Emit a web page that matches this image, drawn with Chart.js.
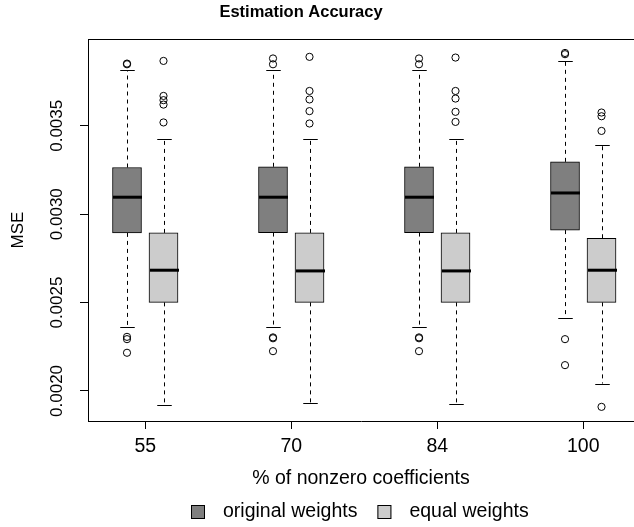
<!DOCTYPE html>
<html>
<head>
<meta charset="utf-8">
<script src="https://cdn.jsdelivr.net/npm/chart.js@4.4.1/dist/chart.umd.min.js"></script>
<style>
  html, body { margin: 0; padding: 0; background: #fff; overflow: hidden; }
  canvas { display: block; }
</style>
</head>
<body>
<canvas id="chart" width="634" height="527"></canvas>
<script>
// categories (x axis) and series
const categories = ['55', '70', '84', '100'];
const seriesNames = ['original weights', 'equal weights'];
const seriesColors = ['#7f7f7f', '#cccccc'];

// original weights: box statistics per category
const origLow = [0.002359, 0.002359, 0.002359, 0.002410];
const origQ1 = [0.002894, 0.002896, 0.002896, 0.002910];
const origMed = [0.003096, 0.003096, 0.003096, 0.003120];
const origQ3 = [0.003264, 0.003268, 0.003268, 0.003296];
const origHigh = [0.003814, 0.003814, 0.003814, 0.003867];
const origOut = [
  [0.003852, 0.003848, 0.002306, 0.002293, 0.002216],
  [0.003881, 0.003848, 0.002303, 0.002298, 0.002225],
  [0.003881, 0.003848, 0.002303, 0.002298, 0.002225],
  [0.003912, 0.003905, 0.002293, 0.002146]
];

// equal weights: box statistics per category
const eqLow = [0.001920, 0.001929, 0.001925, 0.002042];
const eqQ1 = [0.002501, 0.002501, 0.002501, 0.002501];
const eqMed = [0.002683, 0.002679, 0.002679, 0.002683];
const eqQ3 = [0.002894, 0.002894, 0.002894, 0.002864];
const eqHigh = [0.003423, 0.003423, 0.003424, 0.003394];
const eqOut = [
  [0.003867, 0.003669, 0.003645, 0.003620, 0.003519],
  [0.003890, 0.003697, 0.003649, 0.003583, 0.003513],
  [0.003886, 0.003697, 0.003654, 0.003579, 0.003522],
  [0.003575, 0.003554, 0.003471, 0.001910]
];

// y axis tick labels
const yTicks = [0.0020, 0.0025, 0.0030, 0.0035];

const groups = [
  {low: origLow, q1: origQ1, med: origMed, q3: origQ3, high: origHigh, out: origOut},
  {low: eqLow, q1: eqQ1, med: eqMed, q3: eqQ3, high: eqHigh, out: eqOut}
];

// box position on the x scale: 4 units per category, series side by side
const slot = (i, s) => 4 * i + 1 + s;
const FONT = "'Liberation Sans', Arial, Helvetica, sans-serif";

Chart.defaults.font.family = FONT;
Chart.defaults.color = '#000';

const datasets = groups.map((g, s) => ({
  type: 'bar',
  label: seriesNames[s],
  data: categories.map((c, i) => ({x: slot(i, s), y: [g.q1[i], g.q3[i]]})),
  backgroundColor: seriesColors[s],
  borderColor: '#000',
  borderWidth: 1,
  borderSkipped: false,
  barThickness: 29,
  grouped: false
}));

groups.forEach((g, s) => {
  const pts = [];
  categories.forEach((c, i) => g.out[i].forEach(v => pts.push({x: slot(i, s), y: v})));
  datasets.push({
    type: 'scatter',
    label: seriesNames[s] + ' outliers',
    data: pts,
    pointStyle: 'circle',
    pointRadius: 3.6,
    borderColor: '#000',
    borderWidth: 1,
    backgroundColor: 'rgba(0,0,0,0)'
  });
});

const boxParts = {
  id: 'boxParts',
  afterDatasetsDraw(chart) {
    const {ctx, scales: {x, y}, chartArea} = chart;
    ctx.save();
    ctx.strokeStyle = '#000';
    // top edge of the plot frame
    ctx.lineWidth = 1;
    ctx.beginPath();
    ctx.moveTo(chartArea.left, Math.round(chartArea.top) + 0.5);
    ctx.lineTo(chartArea.right, Math.round(chartArea.top) + 0.5);
    ctx.stroke();

    groups.forEach((g, s) => {
      const meta = chart.getDatasetMeta(s);
      categories.forEach((c, i) => {
        const half = meta.data[i].width / 2;
        const cx = Math.round(x.getPixelForValue(slot(i, s))) + 0.5;
        const yLow = y.getPixelForValue(g.low[i]);
        const yQ1 = y.getPixelForValue(g.q1[i]);
        const yMed = y.getPixelForValue(g.med[i]);
        const yQ3 = y.getPixelForValue(g.q3[i]);
        const yHigh = y.getPixelForValue(g.high[i]);
        // dashed whiskers
        ctx.lineWidth = 1;
        ctx.setLineDash([4, 4]);
        ctx.beginPath();
        ctx.moveTo(cx, yQ3); ctx.lineTo(cx, yHigh);
        ctx.moveTo(cx, yQ1); ctx.lineTo(cx, yLow);
        ctx.stroke();
        // staples
        ctx.setLineDash([]);
        ctx.beginPath();
        ctx.moveTo(cx - half / 2, Math.round(yHigh) + 0.5); ctx.lineTo(cx + half / 2, Math.round(yHigh) + 0.5);
        ctx.moveTo(cx - half / 2, Math.round(yLow) + 0.5); ctx.lineTo(cx + half / 2, Math.round(yLow) + 0.5);
        ctx.stroke();
        // median
        ctx.lineWidth = 3;
        ctx.beginPath();
        ctx.moveTo(cx - half, yMed); ctx.lineTo(cx + half, yMed);
        ctx.stroke();
      });
    });
    ctx.restore();
  },
  afterDraw(chart) {
    const {ctx, scales: {y}} = chart;
    ctx.save();
    ctx.fillStyle = '#000';
    // title
    ctx.font = 'bold 16.5px ' + FONT;
    ctx.textAlign = 'center';
    ctx.textBaseline = 'middle';
    ctx.fillText('Estimation Accuracy', 301, 12);
    // rotated y tick labels
    ctx.font = '17px ' + FONT;
    yTicks.forEach(v => {
      ctx.save();
      ctx.translate(57, y.getPixelForValue(v));
      ctx.rotate(-Math.PI / 2);
      ctx.fillText(v.toFixed(4), 0, 0);
      ctx.restore();
    });
    // legend
    ctx.font = '19.5px ' + FONT;
    ctx.textAlign = 'left';
    let lx = 191;
    const ly = 512;
    seriesNames.forEach((name, s) => {
      ctx.fillStyle = seriesColors[s];
      ctx.fillRect(lx, ly - 7, 14, 14);
      ctx.strokeStyle = '#000';
      ctx.lineWidth = 1;
      ctx.strokeRect(lx + 0.5, ly - 6.5, 13, 13);
      ctx.fillStyle = '#000';
      ctx.fillText(name, lx + 32, ly);
      lx += 32 + ctx.measureText(name).width + 20;
    });
    ctx.restore();
  }
};

new Chart(document.getElementById('chart'), {
  type: 'bar',
  data: {datasets},
  plugins: [boxParts],
  options: {
    responsive: false,
    animation: false,
    devicePixelRatio: 1,
    layout: {autoPadding: false, padding: {top: 39, left: 0, right: 0, bottom: 0}},
    plugins: {
      legend: {display: false},
      tooltip: {enabled: false},
      title: {display: false}
    },
    scales: {
      x: {
        type: 'linear',
        offset: false,
        min: -0.0685,
        max: 14.89,
        afterBuildTicks: axis => { axis.ticks = categories.map((c, i) => ({value: 4 * i + 1.5})); },
        afterFit: axis => {
          axis.height = 106;
          axis.paddingLeft = 0;
          axis.paddingRight = 0;
        },
        ticks: {
          autoSkip: false,
          maxRotation: 0,
          padding: 6,
          font: {size: 19.5},
          callback: v => categories[Math.round((v - 1.5) / 4)]
        },
        grid: {offset: false, drawOnChartArea: false, tickLength: 8, color: '#000'},
        border: {display: true, color: '#000'},
        title: {
          display: true,
          text: '% of nonzero coefficients',
          font: {size: 19.5},
          padding: {top: 0, bottom: 37}
        }
      },
      y: {
        type: 'linear',
        min: 0.00183,
        max: 0.003991,
        afterBuildTicks: axis => { axis.ticks = yTicks.map(v => ({value: v})); },
        afterFit: axis => {
          axis.width = 88;
          axis.paddingTop = 0;
          axis.paddingBottom = 0;
        },
        ticks: {display: false},
        grid: {drawOnChartArea: false, tickLength: 8, color: '#000'},
        border: {display: true, color: '#000'},
        title: {
          display: true,
          text: 'MSE',
          font: {size: 17},
          padding: {top: 8, bottom: 0}
        }
      }
    }
  }
});
</script>
</body>
</html>
